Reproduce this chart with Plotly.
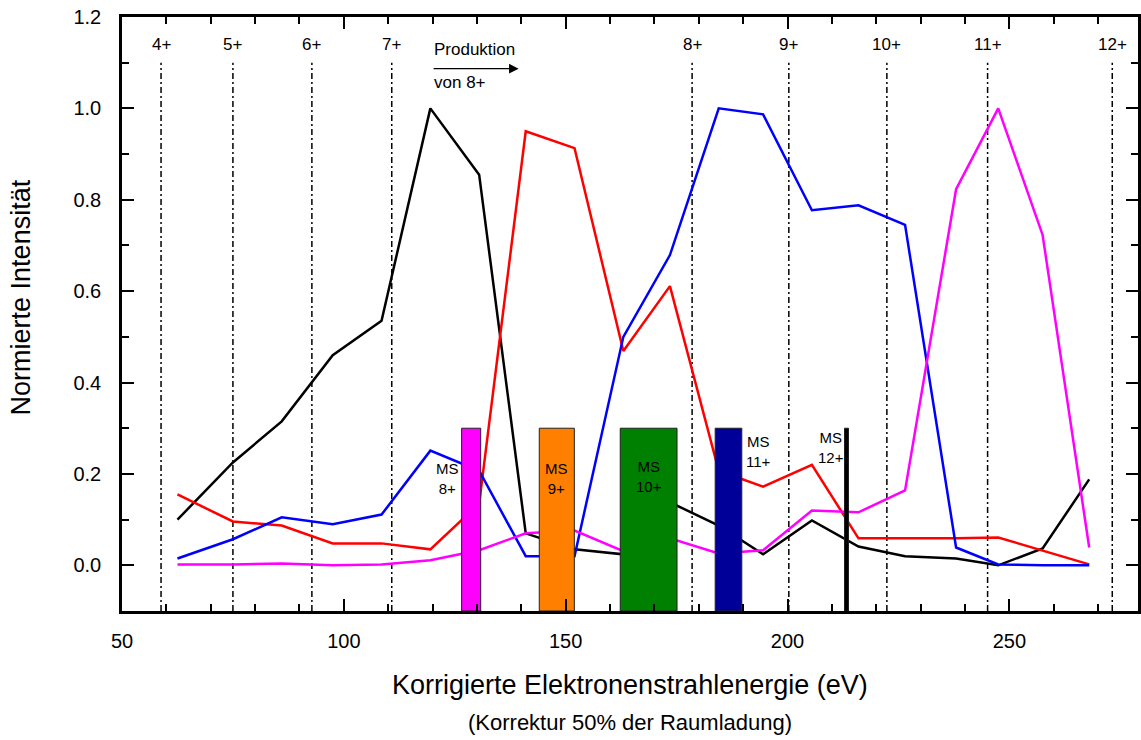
import plotly.graph_objects as go

# ---------------- data ----------------
energy = [62.5, 75, 86, 97.5, 108.5, 119.5, 130.5, 141, 152, 163, 173.5, 184.5,
          194.5, 205.5, 216, 226.5, 238, 247.5, 257.5, 268]
black_series = [0.10, 0.225, 0.315, 0.46, 0.535, 1.0, 0.855, 0.07, 0.035, 0.024, 0.138,
                0.087, 0.024, 0.098, 0.041, 0.020, 0.015, 0.0, 0.037, 0.188]
red_series = [0.155, 0.096, 0.087, 0.048, 0.048, 0.035, 0.135, 0.95, 0.913, 0.469, 0.611,
              0.207, 0.172, 0.22, 0.059, 0.059, 0.059, 0.061, 0.033, 0.002]
blue_series = [0.015, 0.057, 0.105, 0.09, 0.111, 0.251, 0.207, 0.02, 0.02, 0.50, 0.679,
               1.0, 0.987, 0.777, 0.788, 0.745, 0.039, 0.002, 0.0, 0.0]
magenta_series = [0.002, 0.002, 0.004, 0.0, 0.002, 0.011, 0.033, 0.07, 0.076, 0.031, 0.059,
                  0.026, 0.033, 0.12, 0.116, 0.164, 0.823, 1.0, 0.723, 0.039]

thresholds = [58.8, 75.0, 92.8, 110.8, 178.5, 200.3, 222.4, 245.1, 273.2]
threshold_labels = ["4+", "5+", "6+", "7+", "8+", "9+", "10+", "11+", "12+"]

ms_centers = [128.7, 148.0, 168.7, 186.7, 213.3]
ms_widths = [4.3, 7.9, 12.8, 6.0, 0.9]
ms_labels = ["MS<br>8+", "MS<br>9+", "MS<br>10+", "MS<br>11+", "MS<br>12+"]
ms_top = 0.3

x_ticks = [50, 100, 150, 200, 250]
x_ticktext = ["50", "100", "150", "200", "250"]
y_ticks = [0.0, 0.2, 0.4, 0.6, 0.8, 1.0, 1.2]
y_ticktext = ["0.0", "0.2", "0.4", "0.6", "0.8", "1.0", "1.2"]

x_range = [50, 279]
y_range = [-0.1, 1.2]
line_top = 1.1

FONT = "Liberation Sans, Arial, sans-serif"

fig = go.Figure()

# threshold dash-dot lines
tx, ty = [], []
for t in thresholds:
    tx += [t, t, None]
    ty += [y_range[0], line_top, None]
fig.add_trace(go.Scatter(x=tx, y=ty, mode="lines",
                         line=dict(color="black", width=1.5, dash="6px,3px,2px,3px"),
                         hoverinfo="skip", showlegend=False))

# series
for ys, col in [(black_series, "#000000"), (red_series, "#FF0000"),
                (blue_series, "#0000FF"), (magenta_series, "#FF00FF")]:
    fig.add_trace(go.Scatter(x=energy, y=ys, mode="lines",
                             line=dict(color=col, width=2.5), showlegend=False))

# MS bars (drawn above lines)
ms_colors = ["#FF00FF", "#FF8000", "#008000", "#000099", "#000000"]
for c, w, col in zip(ms_centers, ms_widths, ms_colors):
    x0, x1 = c - w / 2, c + w / 2
    fig.add_trace(go.Scatter(x=[x0, x1, x1, x0, x0],
                             y=[y_range[0], y_range[0], ms_top, ms_top, y_range[0]],
                             mode="lines", fill="toself", fillcolor=col,
                             line=dict(color="#202020", width=1),
                             hoverinfo="skip", showlegend=False))

annotations = []
# threshold labels
for t, lab in zip(thresholds, threshold_labels):
    annotations.append(dict(x=t, y=1.14, xref="x", yref="y", text=lab, showarrow=False,
                            font=dict(family=FONT, size=17, color="black"),
                            xanchor="center", yanchor="middle"))

# Produktion arrow
annotations.append(dict(x=119.9, y=1.129, xref="x", yref="y", text="Produktion",
                        showarrow=False, xanchor="left", yanchor="middle",
                        font=dict(family=FONT, size=17, color="black")))
annotations.append(dict(x=119.9, y=1.057, xref="x", yref="y", text="von 8+",
                        showarrow=False, xanchor="left", yanchor="middle",
                        font=dict(family=FONT, size=17, color="black")))
annotations.append(dict(x=139.4, y=1.087, xref="x", yref="y", ax=119.9, ay=1.087,
                        axref="x", ayref="y", text="", showarrow=True,
                        arrowhead=2, arrowsize=1.6, arrowwidth=1.2, arrowcolor="black"))

# MS labels
ms_label_pos = [(123.3, 0.19, "center"), (148.0, 0.19, "center"), (168.7, 0.194, "center"),
                (190.3, 0.25, "left"), (209.8, 0.258, "center")]
for (lx, ly, anc), lab in zip(ms_label_pos, ms_labels):
    annotations.append(dict(x=lx, y=ly, xref="x", yref="y", text=lab, showarrow=False,
                            xanchor=anc, yanchor="middle", align="center",
                            font=dict(family=FONT, size=15, color="black")))

# axis titles
annotations.append(dict(x=0.5, y=-0.1246, xref="paper", yref="paper",
                        text="Korrigierte Elektronenstrahlenergie (eV)", showarrow=False,
                        xanchor="center", yanchor="middle",
                        font=dict(family=FONT, size=27, color="black")))
annotations.append(dict(x=0.5, y=-0.187, xref="paper", yref="paper",
                        text="(Korrektur 50% der Raumladung)", showarrow=False,
                        xanchor="center", yanchor="middle",
                        font=dict(family=FONT, size=22, color="black")))
annotations.append(dict(x=-0.099, y=0.5286, xref="paper", yref="paper",
                        text="Normierte Intensität", showarrow=False, textangle=-90,
                        xanchor="center", yanchor="middle",
                        font=dict(family=FONT, size=27, color="black")))

axis_common = dict(showgrid=False, zeroline=False, showline=True, linecolor="black",
                   linewidth=2.5, mirror="ticks", ticks="inside", ticklen=12,
                   tickwidth=2, tickcolor="black",
                   tickfont=dict(family=FONT, size=20, color="black"))

fig.update_layout(
    width=1141, height=740,
    margin=dict(l=122, r=0, t=17, b=129),
    paper_bgcolor="white", plot_bgcolor="white",
    showlegend=False,
    annotations=annotations,
    xaxis=dict(range=x_range, tickvals=x_ticks, ticktext=x_ticktext,
               minor=dict(ticks="inside", ticklen=7, tickwidth=2, dtick=10, tick0=50,
                          tickcolor="black"),
               ticklabelstandoff=10, **axis_common),
    yaxis=dict(range=y_range, tickvals=y_ticks, ticktext=y_ticktext,
               minor=dict(ticks="inside", ticklen=7, tickwidth=2, dtick=0.1, tick0=0,
                          tickcolor="black"),
               ticklabelstandoff=14, **axis_common),
)

fig.write_html("out.html")
